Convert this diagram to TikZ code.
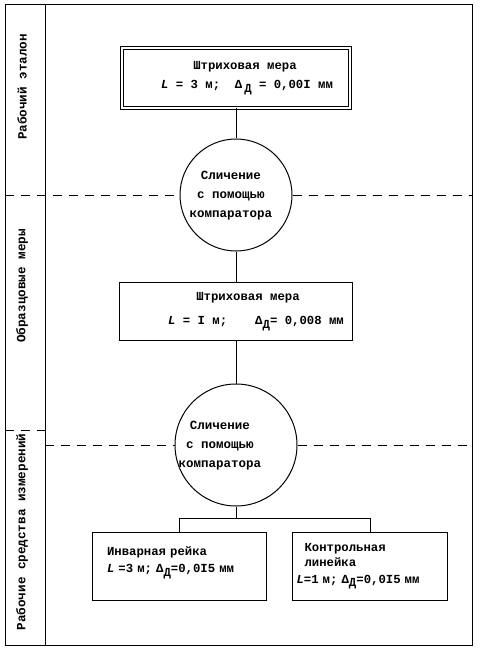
\documentclass[tikz,border=0pt]{standalone}
\usepackage{fontspec}
\setmainfont{Liberation Mono}
\usepackage{tikz}
\usetikzlibrary{positioning}
\newcommand{\deltad}{Δ\raisebox{-0.55ex}{Д}}
% comparator label, shifted sideways by #1
\newcommand{\cmptext}[1]{\makebox[0pt]{\hspace*{#1}\begin{tabular}{@{}c@{}}Сличение\\с помощью\\компаратора\end{tabular}}}

\begin{document}
\begin{tikzpicture}[x=1pt, y=-1pt,
        node distance=30pt, font=\fontsize{12.3}{15}\selectfont\bfseries, line width=1pt,
        measure/.style={rectangle, draw, minimum width=233pt, minimum height=58pt, align=center},
        mainmeasure/.style={measure, double, double distance=2pt, minimum width=228pt, minimum height=60pt},
        compare/.style={circle, draw, inner sep=0pt, font=\fontsize{12.5}{19}\selectfont\bfseries},
        tool/.style={rectangle, draw, minimum height=68pt, align=left},
        level/.style={rotate=90, font=\fontsize{12.6}{15}\selectfont\bfseries},
        split/.style={dash pattern=on 9pt off 7pt}
    ]
        \useasboundingbox (0,0) rectangle (484,655);
        % frame
        \draw (5,5) rectangle (472,645);
        \draw (45,5) -- (45,645);
        \coordinate (inner) at (45,0);
        \coordinate (outer) at (472,0);
        \node[level] (lab1) at (22,87) {Рабочий эталон};
        \node[level] (lab2) at (22,286) {Образцовые меры};
        \node[level] (lab3) at (22,532) {Рабочие средства измерений};
        % chain
        \node[mainmeasure] (m1) at (236,78) {\hspace*{18pt}Штриховая мера\\[4pt] \hspace*{22pt}\textit{L} = 3 м;\ \ Δ\,\raisebox{-0.55ex}{Д} = 0,00I мм};
        \node[compare, minimum size=112pt, below=of m1] (c1) {\cmptext{-10pt}};
        \node[measure, below=of c1] (m2) {\mbox{}\\[-6pt]\hspace*{24pt}Штриховая мера\\[9pt] \hspace*{40pt}\textit{L} = I м;\hspace{28pt}\deltad= 0,008 мм};
        \node[compare, minimum size=122pt, below=43pt of m2] (c2) {\cmptext{-32pt}};
        \node[tool, minimum width=174pt, text width=144pt, inner xsep=15pt, below=25pt of c2, xshift=-57pt] (t1) {Инварная рейка\\[2pt]\textit{L} =3 м; \deltad=0,0I5 мм\\[-2pt]\mbox{}};
        \node[tool, minimum width=155pt, text width=147pt, inner xsep=4pt, below=25pt of c2, xshift=134pt] (t2) {\hspace*{8pt}Контрольная\\\hspace*{8pt}линейка\\[2pt]\textit{L}=1 м; \deltad=0,0I5 мм};
        \coordinate[below=12pt of c2] (fork);
        \draw (m1) -- (c1);
        \draw (c1) -- (m2);
        \draw (m2) -- (c2);
        \draw (c2) -- (fork);
        \draw (t1.north) |- (fork) -| (t2.north);
        % level borders
        \draw[split] (5,195) -- (c1.west);
        \draw[split] (c1.east) -- (outer |- c1.east);
        \draw[split] (5,430) -- (45,430);
        \draw[split] (inner |- c2.west) -- (c2.west);
        \draw[split] (c2.east) -- (outer |- c2.east);
    \end{tikzpicture}
\end{document}
